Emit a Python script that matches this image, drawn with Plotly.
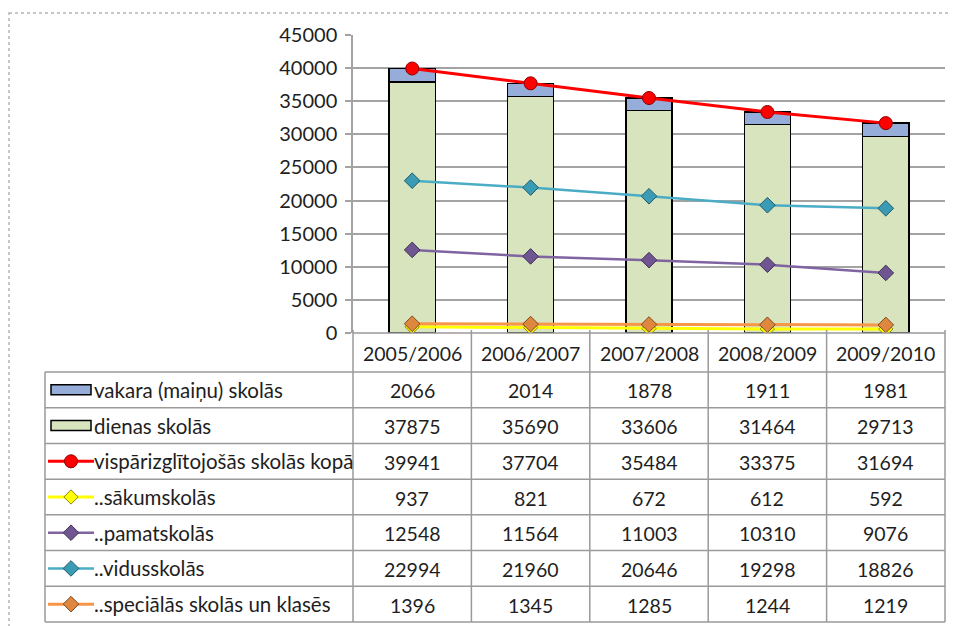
import plotly.graph_objects as go

# ---------------- data ----------------
categories = ["2005/2006", "2006/2007", "2007/2008", "2008/2009", "2009/2010"]
vakara = [2066, 2014, 1878, 1911, 1981]
dienas = [37875, 35690, 33606, 31464, 29713]
kopa = [39941, 37704, 35484, 33375, 31694]
sakum = [937, 821, 672, 612, 592]
pamat = [12548, 11564, 11003, 10310, 9076]
vidus = [22994, 21960, 20646, 19298, 18826]
special = [1396, 1345, 1285, 1244, 1219]
series_names = [
    "vakara (maiņu) skolās",
    "dienas skolās",
    "vispārizglītojošās skolās kopā",
    "..sākumskolās",
    "..pamatskolās",
    "..vidusskolās",
    "..speciālās skolās un klasēs",
]
y_tick_values = [0, 5000, 10000, 15000, 20000, 25000, 30000, 35000, 40000, 45000]

# ---------------- styling / layout ----------------
W, H = 956, 626
OFF = 8                                  # page body margin
L, R, T, B = 353, 945, 35, 333           # plot area in screen pixels
FONT = "Lato, 'Open Sans', sans-serif"
TXT = "#1e1e1e"
GRID = "#a3a3a3"
TABLE_LINE = "#9a9a9a"

styles = {
    "vakara": dict(fill="#95add8"),
    "dienas": dict(fill="#d7e4bd"),
    "kopa": dict(line="#ff0000", mfill="#ff0000", medge="#8b0000", symbol="circle", msize=13, lw=3),
    "sakum": dict(line="#ffff00", mfill="#ffff00", medge="#8a8a00", symbol="diamond", msize=11, lw=3),
    "pamat": dict(line="#8064a2", mfill="#6f5693", medge="#3f3151", symbol="diamond", msize=12, lw=2.5),
    "vidus": dict(line="#4bacc6", mfill="#3a9bb5", medge="#215968", symbol="diamond", msize=12, lw=2.5),
    "special": dict(line="#f79646", mfill="#e0873f", medge="#7a4a1e", symbol="diamond", msize=12, lw=3),
}

fig = go.Figure()

# stacked bars (dienas bottom, vakara on top)
fig.add_trace(go.Bar(x=categories, y=dienas, name=series_names[1],
                     marker=dict(color=styles["dienas"]["fill"], line=dict(color="#000000", width=1.4)),
                     showlegend=False))
fig.add_trace(go.Bar(x=categories, y=vakara, name=series_names[0],
                     marker=dict(color=styles["vakara"]["fill"], line=dict(color="#000000", width=1.4)),
                     showlegend=False))

line_series = [("kopa", kopa, series_names[2]), ("sakum", sakum, series_names[3]),
               ("pamat", pamat, series_names[4]), ("vidus", vidus, series_names[5]),
               ("special", special, series_names[6])]
for key, vals, nm in line_series:
    st = styles[key]
    fig.add_trace(go.Scatter(x=categories, y=vals, name=nm, mode="lines+markers",
                             line=dict(color=st["line"], width=st["lw"]),
                             marker=dict(symbol=st["symbol"], size=st["msize"], color=st["mfill"],
                                         line=dict(color=st["medge"], width=1)),
                             showlegend=False))

# ---------------- data table (screen-pixel overlay axis x2/y2) ----------------
shapes = []
annotations = []
ncol = len(categories)
colw = (R - L) / ncol
col_x = [L + colw * k for k in range(ncol + 1)]
TL = 45                     # table left (legend column)
header_bottom = 372
row_h = (622 - header_bottom) / len(series_names)
row_y = [header_bottom + row_h * k for k in range(len(series_names) + 1)]

def hline(x0, x1, y):
    shapes.append(dict(type="line", xref="x2", yref="y2", x0=x0, x1=x1, y0=y, y1=y,
                       line=dict(color=TABLE_LINE, width=1.5), layer="above"))

def vline(x, y0, y1):
    shapes.append(dict(type="line", xref="x2", yref="y2", x0=x, x1=x, y0=y0, y1=y1,
                       line=dict(color=TABLE_LINE, width=1.5), layer="above"))

hline(L, R, B)
for y in row_y:
    hline(TL, R, y)
for x in col_x:
    vline(x, B - 3, row_y[-1])
vline(TL, header_bottom, row_y[-1])

NUM_SIZE = 19.5
for k, c in enumerate(categories):
    annotations.append(dict(xref="x2", yref="y2", x=(col_x[k] + col_x[k + 1]) / 2, y=(B + header_bottom) / 2 + 1,
                            text=c, showarrow=False, xanchor="center", yanchor="middle",
                            font=dict(family=FONT, size=NUM_SIZE, color=TXT)))

table_rows = [vakara, dienas, kopa, sakum, pamat, vidus, special]
row_keys = ["vakara", "dienas", "kopa", "sakum", "pamat", "vidus", "special"]
for r, (vals, key, nm) in enumerate(zip(table_rows, row_keys, series_names)):
    yc = (row_y[r] + row_y[r + 1]) / 2
    for k, v in enumerate(vals):
        annotations.append(dict(xref="x2", yref="y2", x=(col_x[k] + col_x[k + 1]) / 2, y=yc + 1,
                                text=str(v), showarrow=False, xanchor="center", yanchor="middle",
                                font=dict(family=FONT, size=NUM_SIZE, color=TXT)))
    annotations.append(dict(xref="x2", yref="y2", x=92, y=yc, text=nm, showarrow=False,
                            xanchor="left", yanchor="middle",
                            font=dict(family=FONT, size=20.5, color=TXT)))
    st = styles[key]
    if key in ("vakara", "dienas"):
        shapes.append(dict(type="rect", xref="x2", yref="y2", x0=51, x1=91, y0=yc - 5, y1=yc + 5,
                           fillcolor=st["fill"], line=dict(color="#000000", width=1.5), layer="above"))
    else:
        fig.add_trace(go.Scatter(x=[48, 94], y=[yc, yc], mode="lines", xaxis="x2", yaxis="y2",
                                 line=dict(color=st["line"], width=st["lw"]), showlegend=False,
                                 hoverinfo="skip"))
        fig.add_trace(go.Scatter(x=[71], y=[yc], mode="markers", xaxis="x2", yaxis="y2",
                                 marker=dict(symbol=st["symbol"], size=st["msize"], color=st["mfill"],
                                             line=dict(color=st["medge"], width=1)),
                                 showlegend=False, hoverinfo="skip"))

# chart area dotted border
shapes.append(dict(type="rect", xref="x2", yref="y2", x0=9, x1=W + 20, y0=13, y1=H + 20,
                   line=dict(color="#b5b5b5", width=1.5, dash="dot"), fillcolor="rgba(0,0,0,0)",
                   layer="below"))

fig.update_layout(
    width=W, height=H,
    margin=dict(l=0, r=0, t=0, b=0, pad=0, autoexpand=False),
    paper_bgcolor="white", plot_bgcolor="rgba(0,0,0,0)",
    barmode="stack", bargap=0.61,
    showlegend=False,
    shapes=shapes, annotations=annotations,
    font=dict(family=FONT, color=TXT),
    xaxis=dict(domain=[(L - OFF) / W, (R - OFF) / W], range=[-0.5, ncol - 0.5], showticklabels=False,
               showgrid=False, zeroline=False, showline=False, ticks="", fixedrange=True,
               automargin=False),
    yaxis=dict(domain=[1 - (B - OFF) / H, 1 - (T - OFF) / H], range=[0, 45000], tickvals=y_tick_values,
               ticktext=[str(v) for v in y_tick_values],
               showgrid=True, gridcolor=GRID, gridwidth=1.5, zeroline=False,
               showline=True, linecolor=GRID, linewidth=1.5,
               ticks="outside", ticklen=6, tickcolor=GRID, tickwidth=1.5,
               ticklabelstandoff=4, automargin=False,
               tickfont=dict(family=FONT, size=20, color=TXT), fixedrange=True),
    xaxis2=dict(domain=[0, 1], range=[OFF, W + OFF], visible=False, fixedrange=True, anchor="y2",
                automargin=False),
    yaxis2=dict(domain=[0, 1], range=[H + OFF, OFF], visible=False, fixedrange=True, anchor="x2",
                automargin=False),
)

fig.write_html("out.html")
